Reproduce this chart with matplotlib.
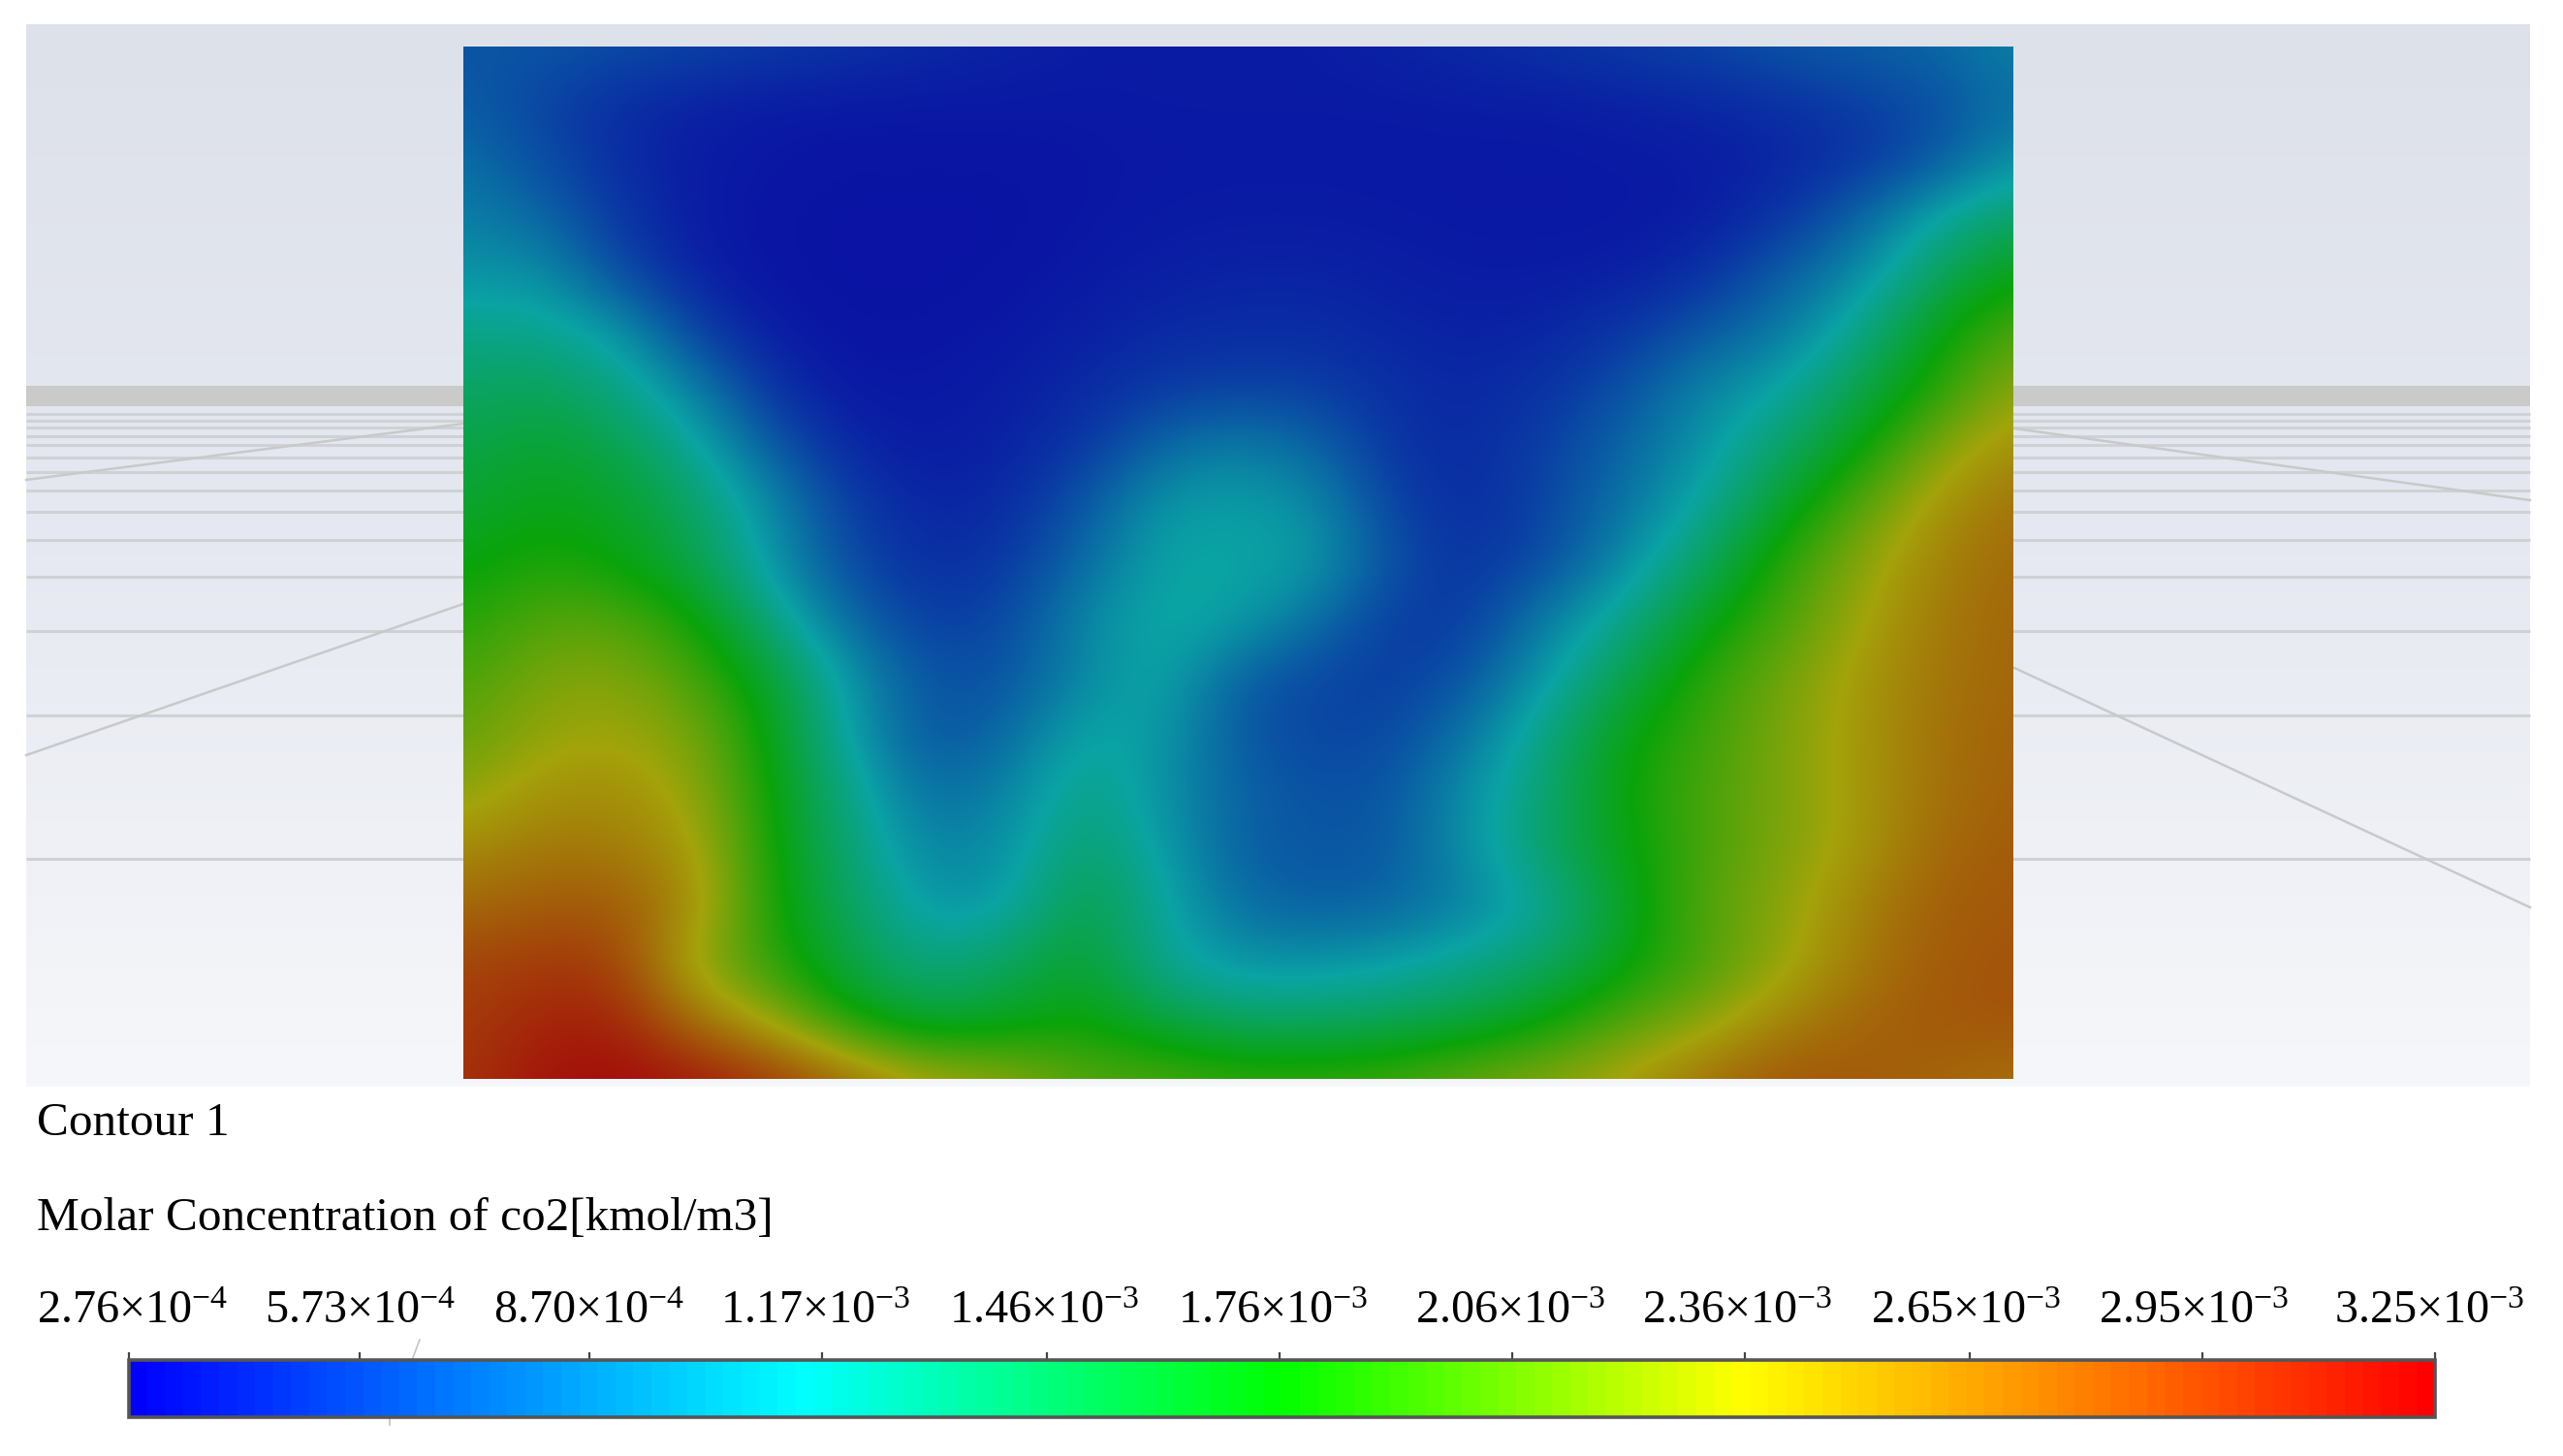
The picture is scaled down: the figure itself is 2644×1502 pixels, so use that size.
#!/usr/bin/env python3
"""CO2 molar concentration contour on a CFD floor background, with legend bar."""

import matplotlib

matplotlib.use("Agg")

import matplotlib.pyplot as plt
import numpy as np
from matplotlib.cm import ScalarMappable
from matplotlib.colors import LinearSegmentedColormap, Normalize

W, H = 2644, 1502

plt.rcParams["font.family"] = ["Liberation Serif", "DejaVu Serif"]
plt.rcParams["mathtext.fontset"] = "custom"
plt.rcParams["mathtext.rm"] = "Liberation Serif"
plt.rcParams["mathtext.default"] = "rm"

TITLE = "Contour 1"
VARIABLE = "Molar Concentration of co2[kmol/m3]"
TICK_VALUES = [2.76e-4, 5.73e-4, 8.70e-4, 1.17e-3, 1.46e-3, 1.76e-3, 2.06e-3, 2.36e-3, 2.65e-3, 2.95e-3, 3.25e-3]
TICK_LABELS = [
    r"2.76×10$^{-4}$", r"5.73×10$^{-4}$", r"8.70×10$^{-4}$", r"1.17×10$^{-3}$", r"1.46×10$^{-3}$", r"1.76×10$^{-3}$",
    r"2.06×10$^{-3}$", r"2.36×10$^{-3}$", r"2.65×10$^{-3}$", r"2.95×10$^{-3}$", r"3.25×10$^{-3}$",
]

# concentration, in 1e-3 kmol/m3, top row first
CONC_MILLI = [
    [.70, .70, .65, .60, .55, .50, .45, .42, .38, .38, .38, .38, .42, .45, .50, .55, .60, .70, .75, .80, .95],
    [.75, .60, .47, .40, .37, .36, .36, .36, .36, .37, .37, .37, .37, .38, .38, .40, .43, .48, .56, .66, .85],
    [.85, .66, .47, .38, .35, .34, .34, .34, .35, .36, .36, .36, .36, .36, .36, .37, .38, .42, .50, .70, 1.05],
    [.95, .82, .52, .37, .34, .33, .33, .33, .35, .37, .38, .38, .37, .36, .36, .36, .38, .50, .78, 1.18, 1.40],
    [1.05, 1.05, .66, .40, .34, .33, .33, .34, .37, .40, .42, .42, .40, .38, .38, .40, .48, .75, 1.00, 1.42, 1.75],
    [1.25, 1.25, 1.10, .58, .37, .34, .34, .36, .40, .45, .47, .47, .43, .41, .43, .52, .72, .90, 1.25, 1.72, 2.05],
    [1.40, 1.45, 1.30, .95, .48, .36, .36, .39, .45, .55, .60, .58, .48, .44, .50, .68, .98, 1.14, 1.50, 1.85, 2.30],
    [1.50, 1.62, 1.50, 1.20, .72, .42, .38, .41, .52, .82, .95, .80, .50, .46, .58, .80, 1.05, 1.38, 1.72, 2.22, 2.50],
    [1.60, 1.72, 1.65, 1.40, 1.00, .55, .42, .45, .70, 1.08, 1.12, 1.02, .58, .46, .60, .88, 1.18, 1.62, 2.05, 2.45, 2.65],
    [1.72, 1.85, 1.75, 1.50, 1.05, .62, .47, .52, .82, 1.15, 1.16, 1.10, .65, .50, .65, 1.02, 1.40, 1.88, 2.25, 2.55, 2.70],
    [1.85, 2.05, 2.05, 1.80, 1.28, .80, .55, .62, .98, 1.20, 1.12, .85, .55, .55, .95, 1.25, 1.68, 2.00, 2.33, 2.60, 2.72],
    [2.00, 2.20, 2.25, 2.00, 1.60, 1.05, .68, .68, .98, 1.20, .75, .62, .55, .70, 1.10, 1.50, 1.90, 2.15, 2.42, 2.62, 2.72],
    [2.10, 2.30, 2.35, 2.20, 1.70, 1.10, .68, .80, 1.18, 1.10, .72, .60, .62, .90, 1.30, 1.73, 1.95, 2.20, 2.42, 2.65, 2.74],
    [2.25, 2.45, 2.48, 2.30, 1.75, 1.25, .82, .95, 1.30, 1.05, .78, .68, .70, 1.05, 1.35, 1.78, 2.00, 2.20, 2.42, 2.65, 2.75],
    [2.50, 2.62, 2.60, 2.42, 1.78, 1.32, .95, 1.02, 1.40, 1.12, .75, .70, .72, 1.05, 1.40, 1.72, 2.00, 2.20, 2.42, 2.70, 2.78],
    [2.70, 2.78, 2.80, 2.50, 1.80, 1.42, 1.05, 1.08, 1.55, 1.20, .85, .75, .80, .95, 1.20, 1.65, 2.05, 2.25, 2.55, 2.76, 2.80],
    [2.90, 2.98, 2.95, 2.25, 1.90, 1.50, 1.28, 1.42, 1.65, 1.20, 1.05, 1.05, 1.12, 1.25, 1.40, 1.72, 2.00, 2.28, 2.60, 2.78, 2.82],
    [2.95, 3.10, 3.12, 2.65, 2.30, 1.80, 1.55, 1.65, 1.78, 1.55, 1.40, 1.40, 1.45, 1.55, 1.76, 2.05, 2.25, 2.55, 2.72, 2.80, 2.82],
    [3.00, 3.20, 3.25, 3.18, 3.00, 2.70, 2.40, 2.30, 2.05, 2.05, 1.95, 1.95, 2.00, 2.15, 2.25, 2.42, 2.65, 2.82, 2.78, 2.72, 2.65],
]

BAR_STOPS = [(0.0, "#0000ff"), (0.29, "#00ffff"), (0.5, "#00ff00"), (0.7, "#ffff00"), (0.85, "#ff8000"), (1.0, "#ff0000")]

# floor grid of the viewer, pixel rows and end points
FLOOR_BAND = (398, 419)
FLOOR_ROWS = [427, 434, 441, 449.5, 459, 472, 487, 506, 527.5, 557, 595, 651, 738, 886]
FLOOR_SLANTS = [
    ((27, 779), (478, 623)),
    ((2078, 689), (2610, 936)),
    ((27, 495), (478, 437)),
    ((2078, 442), (2610, 516)),
]


def px_rect(left, top, right, bottom):
    return [left / W, 1 - bottom / H, (right - left) / W, (bottom - top) / H]


bar_cmap = LinearSegmentedColormap.from_list("bar", BAR_STOPS, N=128)
field_cmap = LinearSegmentedColormap.from_list(
    "field",
    [(t, tuple(np.array(matplotlib.colors.to_rgb(c)) * 0.6 + 0.04)) for t, c in BAR_STOPS],
    N=512,
)
norm = Normalize(TICK_VALUES[0], TICK_VALUES[-1])

fig = plt.figure(figsize=(W / 100, H / 100), dpi=100, facecolor="white")

# viewer background
ax = fig.add_axes([0, 0, 1, 1])
ax.set_xlim(0, W)
ax.set_ylim(H, 0)
ax.axis("off")
sky = LinearSegmentedColormap.from_list("sky", ["#dde1ea", "#e6e9f1", "#f6f7fa"])
ax.imshow(np.linspace(0, 1, 256)[:, None], cmap=sky, extent=(27, 2610, 1121, 25), aspect="auto", zorder=0)
ax.set_xlim(0, W)
ax.set_ylim(H, 0)
ax.fill_between([27, 2610], *FLOOR_BAND, color="#c9cac9", lw=0, zorder=1)
ax.hlines(FLOOR_ROWS, 27, 2610, color="#cfd1d4", lw=2.2, zorder=1)
for (x0, y0), (x1, y1) in FLOOR_SLANTS:
    ax.plot([x0, x1], [y0, y1], color="#c8c9ca", lw=1.8, zorder=2)

# contour field
ax_field = fig.add_axes(px_rect(478, 48, 2077, 1113))
ax_field.imshow(
    np.array(CONC_MILLI) * 1e-3,
    cmap=field_cmap,
    norm=norm,
    interpolation="bicubic",
    interpolation_stage="data",
    aspect="auto",
)
ax_field.set_xlim(0, 20)
ax_field.set_ylim(18, 0)
ax_field.axis("off")

# legend
ax.text(38, 1171, TITLE, fontsize=35.5, va="baseline", color="black")
ax.text(38, 1269, VARIABLE, fontsize=35.5, va="baseline", color="black")
LABEL_LEFT = [38, 273, 509, 743, 979, 1215, 1460, 1694, 1930, 2165, 2408]
for x, label in zip(LABEL_LEFT, TICK_LABELS):
    ax.text(x, 1365, label, fontsize=34.7, va="baseline", color="black")

ax.plot([433, 425], [1382, 1403], color="#c4c4c4", lw=1.2)
ax.plot([402, 402], [1462, 1470], color="#c4c4c4", lw=1.2)

ax_bar = fig.add_axes(px_rect(133, 1403, 2512, 1462))
bar = fig.colorbar(
    ScalarMappable(norm=norm, cmap=bar_cmap),
    cax=ax_bar,
    orientation="horizontal",
    ticks=TICK_VALUES,
    ticklocation="top",
)
bar.ax.tick_params(length=6, width=1.6, color="#444444", labeltop=False, labelbottom=False)
bar.minorticks_off()
bar.outline.set_edgecolor("#555555")
bar.outline.set_linewidth(2.6)

fig.savefig("out.png", dpi=100, facecolor="white")
